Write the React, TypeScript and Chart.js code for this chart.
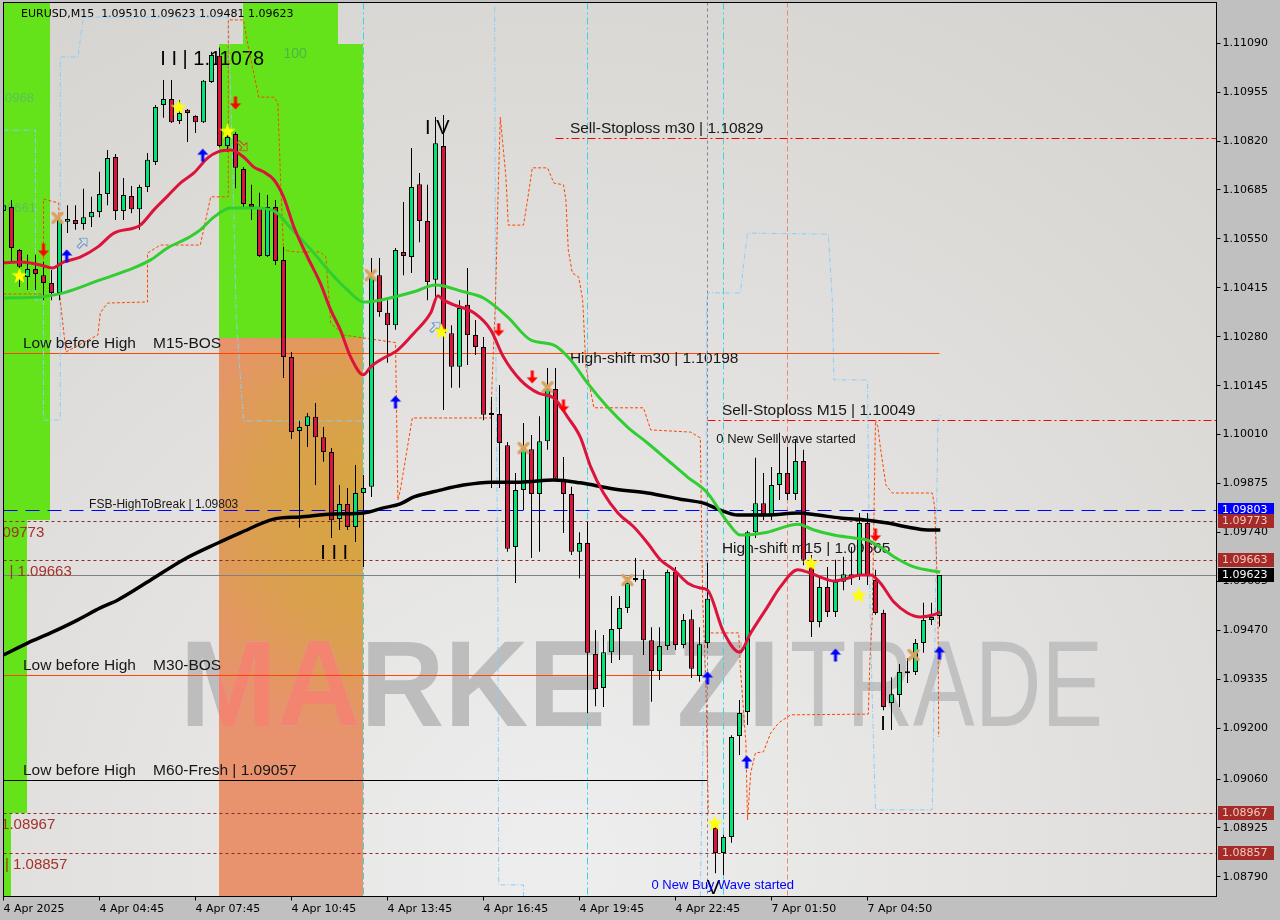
import React, { useEffect, useRef } from "react";
import { Chart, registerables } from "chart.js";

Chart.register(...registerables);

// ---------------- data ----------------
const SYMBOL = "EURUSD,M15";

const TIME_TICK_INDEX = [0, 12, 24, 36, 48, 60, 72, 84, 96, 108];
const TIME_TICK_LABELS = [
  "4 Apr 2025", "4 Apr 04:45", "4 Apr 07:45", "4 Apr 10:45", "4 Apr 13:45",
  "4 Apr 16:45", "4 Apr 19:45", "4 Apr 22:45", "7 Apr 01:50", "7 Apr 04:50",
];

const PRICE_TICKS = [
  1.1109, 1.10955, 1.1082, 1.10685, 1.1055, 1.10415, 1.1028, 1.10145, 1.1001,
  1.09875, 1.0974, 1.09605, 1.0947, 1.09335, 1.092, 1.0906, 1.08925, 1.0879,
];

const OPEN = [
  1.10627, 1.10638, 1.10519, 1.10445, 1.10467, 1.1045, 1.10428, 1.10401, 1.10597, 1.10602,
  1.10591, 1.1061, 1.10624, 1.10674, 1.10776, 1.10627, 1.10668, 1.10632, 1.10693, 1.10762,
  1.10919, 1.10936, 1.10875, 1.10906, 1.10889, 1.10872, 1.10983, 1.11055, 1.10806, 1.10839,
  1.10743, 1.10646, 1.10635, 1.10503, 1.10638, 1.10492, 1.10224, 1.1002, 1.10034, 1.10059,
  1.10003, 1.09962, 1.09777, 1.09819, 1.09755, 1.09849, 1.09866, 1.1045, 1.10346, 1.10312,
  1.10514, 1.105, 1.10701, 1.10599, 1.10437, 1.10806, 1.1029, 1.10197, 1.10368, 1.10285,
  1.10252, 1.10067, 1.10067, 1.09981, 1.097, 1.09857, 1.0997, 1.09846, 1.09992, 1.10136,
  1.09888, 1.09846, 1.09687, 1.09711, 1.09405, 1.09311, 1.0941, 1.09474, 1.09532, 1.09609,
  1.09612, 1.09443, 1.09358, 1.09427, 1.09631, 1.0943, 1.09501, 1.09344, 1.09435, 1.08925,
  1.08856, 1.089, 1.09179, 1.09245, 1.09741, 1.09821, 1.09788, 1.09871, 1.09904, 1.09846,
  1.09937, 1.09659, 1.09493, 1.0959, 1.09521, 1.09604, 1.09625, 1.09623, 1.09766, 1.09609,
  1.09518, 1.0927, 1.09292, 1.09355, 1.09355, 1.09435, 1.09499, 1.0951,
];
const HIGH = [
  1.1069, 1.10657, 1.10522, 1.10506, 1.10506, 1.10486, 1.10464, 1.10616, 1.10643, 1.10643,
  1.10688, 1.10666, 1.10735, 1.10795, 1.10784, 1.10718, 1.10696, 1.10699, 1.10787, 1.10919,
  1.10988, 1.10988, 1.10933, 1.10908, 1.10891, 1.10988, 1.11066, 1.11078, 1.1085, 1.10845,
  1.10748, 1.10699, 1.10677, 1.10671, 1.10657, 1.10528, 1.10238, 1.10048, 1.1007, 1.10097,
  1.10031, 1.09973, 1.09871, 1.09863, 1.09926, 1.09899, 1.10497, 1.10497, 1.10381, 1.10525,
  1.10652, 1.10801, 1.10732, 1.10699, 1.10886, 1.10892, 1.10312, 1.10381, 1.1047, 1.10326,
  1.10279, 1.10114, 1.10147, 1.0999, 1.09904, 1.10042, 1.10009, 1.10061, 1.10194, 1.10194,
  1.09948, 1.09866, 1.09741, 1.09769, 1.09471, 1.09457, 1.09565, 1.09565, 1.09617, 1.0967,
  1.09637, 1.09479, 1.09479, 1.09637, 1.09645, 1.09515, 1.09527, 1.09479, 1.09656, 1.08939,
  1.08906, 1.09181, 1.09278, 1.09745, 1.09946, 1.09904, 1.09921, 1.10015, 1.09976, 1.09995,
  1.09968, 1.09678, 1.09617, 1.09645, 1.09665, 1.09673, 1.097, 1.09794, 1.09794, 1.09637,
  1.09527, 1.09341, 1.09377, 1.09394, 1.09446, 1.09546, 1.09546, 1.09623,
];
const LOW = [
  1.10575, 1.10486, 1.10417, 1.10409, 1.10409, 1.10381, 1.10381, 1.10381, 1.10566, 1.10575,
  1.10575, 1.10583, 1.1061, 1.10643, 1.10602, 1.10602, 1.10621, 1.10575, 1.10679, 1.10754,
  1.10884, 1.1087, 1.10867, 1.10817, 1.10842, 1.1087, 1.1098, 1.10803, 1.1079, 1.1069,
  1.10638, 1.10602, 1.105, 1.105, 1.10478, 1.10166, 1.09998, 1.09753, 1.09976, 1.09871,
  1.09935, 1.09725, 1.09747, 1.09747, 1.09714, 1.09645, 1.09838, 1.10335, 1.10208, 1.10299,
  1.1045, 1.10456, 1.10541, 1.10381, 1.10381, 1.10078, 1.10139, 1.10139, 1.10202, 1.1023,
  1.1005, 1.09863, 1.09863, 1.09687, 1.09601, 1.09802, 1.0967, 1.09687, 1.09968, 1.09885,
  1.09739, 1.09678, 1.09614, 1.09242, 1.09261, 1.09259, 1.0938, 1.09388, 1.09518, 1.09604,
  1.09402, 1.09273, 1.09333, 1.09416, 1.09416, 1.09421, 1.09339, 1.09328, 1.09421, 1.088,
  1.08795, 1.08884, 1.09126, 1.09209, 1.09725, 1.09774, 1.09774, 1.0983, 1.0983, 1.0983,
  1.0965, 1.09452, 1.09479, 1.09507, 1.09507, 1.09581, 1.09595, 1.09609, 1.09595, 1.09513,
  1.0925, 1.09195, 1.09259, 1.09325, 1.09347, 1.09408, 1.09485, 1.09481,
];
const CLOSE = [
  1.10643, 1.10525, 1.10473, 1.10467, 1.10453, 1.10428, 1.10401, 1.10602, 1.10605, 1.10591,
  1.1061, 1.10624, 1.10674, 1.10773, 1.10627, 1.10671, 1.10632, 1.10693, 1.10768, 1.10914,
  1.10936, 1.10872, 1.10897, 1.10897, 1.10872, 1.10986, 1.11057, 1.10806, 1.10831, 1.10746,
  1.10646, 1.10638, 1.10503, 1.10638, 1.10489, 1.10224, 1.10017, 1.10031, 1.10061, 1.10003,
  1.09962, 1.09774, 1.09819, 1.09755, 1.09849, 1.09863, 1.10445, 1.10348, 1.10312, 1.10519,
  1.10503, 1.10693, 1.10599, 1.10431, 1.10814, 1.1029, 1.10197, 1.10359, 1.10285, 1.10252,
  1.10065, 1.10064, 1.09987, 1.09695, 1.09857, 1.09973, 1.09846, 1.09992, 1.10136, 1.09888,
  1.09846, 1.09687, 1.09711, 1.09408, 1.09308, 1.0941, 1.09474, 1.09532, 1.09601, 1.09612,
  1.09443, 1.09358, 1.09427, 1.09631, 1.0943, 1.09499, 1.09364, 1.09432, 1.09557, 1.08856,
  1.089, 1.09176, 1.09242, 1.09741, 1.09821, 1.09791, 1.09871, 1.09904, 1.09846, 1.09937,
  1.09665, 1.09493, 1.0959, 1.09521, 1.09604, 1.09625, 1.09614, 1.09766, 1.09623, 1.09518,
  1.09259, 1.09294, 1.09355, 1.09352, 1.09435, 1.09499, 1.09507, 1.09623,
];

// moving averages: [bar index, price]
const MA_RED: [number, number][] = [
  [0, 1.10484], [2.1, 1.10486], [4.6, 1.10478], [6.1, 1.1047], [7.5, 1.10486], [9.6, 1.105],
  [11.8, 1.10528], [13.8, 1.10566], [16.3, 1.1058], [17.1, 1.10588], [18.8, 1.1063], [20.5, 1.10668],
  [22.1, 1.10704], [23.8, 1.10732], [25.5, 1.10773], [26.8, 1.1079], [28.4, 1.10795], [30, 1.10776],
  [31.3, 1.10748], [32.5, 1.10735], [33.8, 1.10713], [35, 1.10666], [36.3, 1.10583], [38, 1.105],
  [39.6, 1.10428], [40.9, 1.10354], [42.1, 1.10299], [43.4, 1.10224], [45, 1.10175], [45.9, 1.10197],
  [47.1, 1.10216], [49.3, 1.10244], [51.3, 1.1029], [53.4, 1.10346], [54.3, 1.10393], [55, 1.10381],
  [56.3, 1.10368], [58.8, 1.10346], [60.9, 1.10299], [62.5, 1.10224], [64.6, 1.10161], [66.8, 1.10125],
  [68.8, 1.10111], [70.5, 1.10059], [72.1, 1.10003], [73.4, 1.09921], [75, 1.09849], [76.8, 1.09794],
  [78.8, 1.09755], [80.5, 1.09711], [82.1, 1.09665], [83.8, 1.09637], [85.5, 1.09601], [87.1, 1.09587],
  [88, 1.09581], [90, 1.09466], [92, 1.0941], [93.4, 1.09463], [95.5, 1.09535], [97.1, 1.0959],
  [99.3, 1.09637], [100.5, 1.09631], [102.1, 1.09617], [103.8, 1.09606], [105.5, 1.09614], [107.1, 1.09623],
  [108.4, 1.09623], [109.6, 1.09601], [111.3, 1.09548], [113, 1.09518], [114.6, 1.09507], [116.3, 1.09513],
  [117.1, 1.09521],
];
const MA_GREEN: [number, number][] = [
  [0, 1.10387], [4.6, 1.1039], [7.5, 1.10401], [12.1, 1.10437], [16.3, 1.1047], [18.4, 1.10492],
  [20.5, 1.10525], [23, 1.10552], [24.6, 1.10575], [26.3, 1.1061], [28.4, 1.10635], [31.3, 1.10635],
  [33.8, 1.10627], [35.9, 1.1058], [38.8, 1.10511], [40.9, 1.10456], [43, 1.10409], [45, 1.10376],
  [47.1, 1.10381], [51.3, 1.10404], [54, 1.10423], [57.5, 1.10404], [60, 1.10387], [63, 1.10335],
  [65.9, 1.10271], [68.8, 1.10257], [70.9, 1.10216], [73, 1.10152], [75.5, 1.10086], [78, 1.10031],
  [80.5, 1.09987], [83, 1.0994], [85.5, 1.09893], [88, 1.09849], [90.5, 1.09769], [92.1, 1.09733],
  [95.5, 1.09741], [99.3, 1.09763], [101.3, 1.09747], [103.8, 1.09733], [106.3, 1.09725], [108, 1.09719],
  [109.6, 1.097], [111.3, 1.09673], [113.8, 1.09645], [117.1, 1.09631],
];
const MA_BLACK: [number, number][] = [
  [0, 1.09402], [3, 1.09435], [5.9, 1.09463], [9.3, 1.09499], [12.1, 1.09532], [14.3, 1.09554],
  [18.4, 1.09609], [22.5, 1.09665], [26.8, 1.09711], [29.6, 1.09739], [33.8, 1.09777], [37.1, 1.09783],
  [41.3, 1.09791], [45, 1.09794], [47.5, 1.09808], [49.6, 1.09819], [51.3, 1.09838], [54.6, 1.09857],
  [57.5, 1.09871], [60.9, 1.09879], [64.6, 1.09879], [68.8, 1.09885], [72.1, 1.09877], [76.3, 1.0986],
  [80.5, 1.09849], [84.6, 1.09832], [87.5, 1.09821], [89.6, 1.09802], [91.8, 1.09788], [95.5, 1.09788],
  [99.3, 1.09794], [101.8, 1.09788], [104.6, 1.0978], [108, 1.09774], [110.5, 1.09766], [113, 1.09755],
  [115.5, 1.09747], [117.1, 1.09747],
];

// stepped channel lines: [bar index, price | null]
const STEP_ORANGE: [number, number | null][] = [
  [0, 1.10398], [5, 1.10398], [5, 1.1066], [6.9, 1.10649], [7.1, 1.10381], [7.8, 1.10238], [11.8, 1.10285],
  [12.1, 1.10346], [13, 1.10373], [18, 1.10376], [18, 1.10511], [19.6, 1.10533], [24.6, 1.10533],
  [25.9, 1.10666], [28.1, 1.10666], [28.1, 1.11154], [30, 1.11154], [30.5, 1.1109], [31.9, 1.10941],
  [33.8, 1.10941], [34.3, 1.10925], [34.6, 1.10732], [35, 1.10519], [36.5, 1.10514], [39.6, 1.10514],
  [40.3, 1.105], [40.9, 1.10318], [42.5, 1.10285], [44.9, 1.10277], [49, 1.10264], [49.3, 1.0983],
  [49.6, 1.09857], [51.1, 1.10056], [60.9, 1.10056], [61.5, 1.10381], [61.8, 1.10657], [62.1, 1.10886],
  [62.8, 1.10721], [63.1, 1.10588], [65, 1.10588], [65.5, 1.10657], [66.1, 1.10746], [68, 1.10746],
  [68.8, 1.10704], [70, 1.10699], [70.3, 1.10657], [70.6, 1.10519], [71.1, 1.10456], [71.9, 1.10445],
  [72.4, 1.10381], [72.8, 1.10197], [73.8, 1.10084], [80, 1.10084], [80.9, 1.10023], [85.9, 1.10017],
  [87.1, 1.10001], [87.4, 1.09554], [87.8, 1.09325], [88.1, 1.08966], [88.2, null], [88.4, 1.09463],
  [91.9, 1.09463], [92.1, 1.09369], [92.8, 1.09159], [93, 1.08947], [93.4, 1.09077], [94, 1.09132],
  [95, 1.09135], [95.9, 1.09187], [96.9, 1.09215], [98.4, 1.09237], [108.1, 1.09239], [108.3, 1.09388],
  [108.6, 1.09507], [109, 1.1005], [109.3, 1.10031], [109.6, 1.09976], [110.3, 1.09871], [111.1, 1.09849],
  [116.1, 1.09849], [116.4, 1.0981], [116.8, 1.09554], [116.9, 1.09176],
];
const STEP_BLUE: [number, number | null][] = [
  [0, 1.1085], [4, 1.1085], [4, 1.10381], [5, 1.10381], [5, 1.1005], [7.1, 1.1005], [7.1, 1.11052],
  [9.3, 1.11052], [10, 1.11162], [28.1, 1.11162], [28.6, 1.10795], [29.1, 1.10326], [30, 1.10048],
  [45, 1.10048], [45.1, null],
  [61.4, 1.1119], [61.5, 1.10381], [61.8, 1.09554], [61.9, 1.08768], [65, 1.08768], [65, 1.08737], [65.1, null],
  [87.1, 1.08737], [87.5, 1.09242], [87.8, 1.09554], [87.9, 1.10381], [88.1, 1.10401], [92.1, 1.10401],
  [92.4, 1.10456], [93, 1.10566], [103.1, 1.10563], [103.6, 1.10381], [103.8, 1.10161], [108, 1.10161],
  [108.3, 1.09554], [108.6, 1.09278], [109, 1.08975], [116.1, 1.08975], [116.5, 1.09554], [116.8, 1.1005],
  [117.1, 1.10065],
];

// signal markers: [bar index, price]
const STARS: [number, number][] = [
  [2, 1.1045], [21.9, 1.10914], [28, 1.10848], [54.75, 1.10296], [88.9, 1.08939], [100.9, 1.09656], [106.9, 1.09568],
];
const CROSSES: [number, number][] = [
  [6.75, 1.10608], [45.9, 1.1045], [65, 1.09973], [68, 1.10141], [78, 1.09609], [113.75, 1.09402],
];
const ARROWS_DOWN: [number, number][] = [
  [5, 1.10519], [29, 1.10925], [61.9, 1.10299], [66.1, 1.10169], [70, 1.10089], [109, 1.09733],
];
const ARROWS_UP: [number, number][] = [
  [7.9, 1.10503], [24.9, 1.10781], [49, 1.101], [88, 1.09339], [92.9, 1.09107], [104, 1.09402], [117, 1.09408],
];
const HOLLOW_UP: [number, number][] = [[9.9, 1.10539], [54, 1.10307]];
const HOLLOW_DOWN: [number, number][] = [[29.9, 1.10806]];

// levels
const SELL_STOP_M30 = 1.10829;
const HIGH_SHIFT_M30 = 1.10198;
const HIGH_SHIFT_M30_LINE = 1.10235;
const SELL_STOP_M15 = 1.10049;
const FSB_HIGH = 1.09803;
const ZONE_HIGH = 1.09773;
const HIGH_SHIFT_M15 = 1.09665;
const HIGH_SHIFT_M15_LINE = 1.09663;
const LAST_PRICE = 1.09623;
const BOS_M30 = 1.09346;
const FRESH_M60 = 1.09057;
const ZONE_LOW = 1.08967;
const ZONE_LOW2 = 1.08857;
const SWING_HIGH = 1.11078;

// zones: [bar from, bar to, price top | null, price bottom | null]
const GREEN_ZONES: [number, number, number | null, number | null][] = [
  [-2, 5.9, null, 1.09774],
  [-2, 3, null, 1.08966],
  [-2, 1, null, null],
  [27, 45, 1.11088, 1.10277],
  [30, 41.9, null, 1.11088],
];
const ORANGE_ZONES: [number, number, number | null, number | null][] = [[27, 45, 1.10277, null]];

const VLINES_CYAN = [45, 73, 90];
const VLINES_GRAY = [88];
const VLINES_SALMON = [98];

const Y_MIN = 1.087359;
const Y_MAX = 1.112021;
const X_MAX = 151.625;

// ---------------- helpers ----------------
const f5 = (v: number) => v.toFixed(5);

function starImg(color: string) {
  const s = 17;
  const c = document.createElement("canvas");
  c.width = s; c.height = s;
  const g = c.getContext("2d")!;
  g.fillStyle = color;
  g.beginPath();
  for (let k = 0; k < 10; k++) {
    const r = k % 2 === 0 ? s / 2 : s * 0.2;
    const ang = -Math.PI / 2 + (k * Math.PI) / 5;
    const px = s / 2 + r * Math.cos(ang);
    const py = s / 2 + 0.8 + r * Math.sin(ang);
    if (k === 0) g.moveTo(px, py); else g.lineTo(px, py);
  }
  g.closePath();
  g.fill();
  return c;
}
function arrowImg(color: string, filled: boolean) {
  const c = document.createElement("canvas");
  c.width = 12; c.height = 14;
  const g = c.getContext("2d")!;
  g.beginPath();
  g.moveTo(6, 0.5); g.lineTo(11.5, 6.5); g.lineTo(7.5, 6.5); g.lineTo(7.5, 13.5);
  g.lineTo(4.5, 13.5); g.lineTo(4.5, 6.5); g.lineTo(0.5, 6.5); g.closePath();
  if (filled) { g.fillStyle = color; g.fill(); } else { g.strokeStyle = color; g.lineWidth = 1; g.stroke(); }
  return c;
}
function crossImg(color: string) {
  const c = document.createElement("canvas");
  c.width = 14; c.height = 14;
  const g = c.getContext("2d")!;
  g.strokeStyle = color; g.lineWidth = 3.2; g.lineCap = "round";
  g.beginPath(); g.moveTo(2.5, 2.5); g.lineTo(11.5, 11.5); g.moveTo(11.5, 2.5); g.lineTo(2.5, 11.5); g.stroke();
  return c;
}

function drawWatermark(ctx: CanvasRenderingContext2D, c1: string, c2: string) {
  ctx.save();
  ctx.font = 'bold 123px "Liberation Sans"';
  const w1 = ctx.measureText("MARKETZI").width;
  ctx.translate(180, 726);
  ctx.scale(600 / w1, 1);
  ctx.fillStyle = c1;
  ctx.fillText("MARKETZI", 0, 0);
  ctx.restore();
  ctx.save();
  ctx.font = '123px "Liberation Sans"';
  const w2 = ctx.measureText("TRADE").width;
  ctx.translate(790, 726);
  ctx.scale(313 / w2, 1);
  ctx.fillStyle = c2;
  ctx.fillText("TRADE", 0, 0);
  ctx.restore();
}

const mt4Plugin = {
  id: "mt4",
  beforeDraw(chart: any) {
    const { ctx, chartArea: a } = chart;
    const xs = chart.scales.x, ys = chart.scales.y;
    const X = (i: number) => xs.getPixelForValue(i);
    const Y = (p: number | null, fb: number) => (p == null ? fb : ys.getPixelForValue(p));
    ctx.save();
    ctx.fillStyle = "#C0C0C0";
    ctx.fillRect(0, 0, chart.width, chart.height);
    const bg = ctx.createRadialGradient(560, 860, 40, 560, 860, 1050);
    bg.addColorStop(0, "#EDEDED");
    bg.addColorStop(1, "#D5D3CF");
    ctx.fillStyle = bg;
    ctx.fillRect(a.left, a.top, a.right - a.left, a.bottom - a.top);
    ctx.beginPath();
    ctx.rect(a.left, a.top, a.right - a.left, a.bottom - a.top);
    ctx.clip();
    const zr = (z: any) => {
      const x0 = Math.floor(X(z[0])), x1 = Math.floor(X(z[1]));
      const y0 = Math.round(Y(z[2], a.top)), y1 = Math.round(Y(z[3], a.bottom));
      return [x0, y0, x1 - x0, y1 - y0];
    };
    ctx.fillStyle = "#64E31B";
    for (const z of GREEN_ZONES) { const r = zr(z); ctx.fillRect(r[0], r[1], r[2], r[3]); }
    for (const z of ORANGE_ZONES) {
      const r = zr(z);
      const cx = r[0] + r[2] + 25, cy = r[1] + 170;
      const og = ctx.createRadialGradient(cx, cy, 10, cx, cy, 240);
      og.addColorStop(0, "#D5A73C");
      og.addColorStop(0.55, "#DB9F50");
      og.addColorStop(1, "#E8926E");
      ctx.fillStyle = og;
      ctx.fillRect(r[0], r[1], r[2], r[3]);
    }
    drawWatermark(ctx, "#BDBDBD", "#C1C1C1");
    for (const z of ORANGE_ZONES) {
      const r = zr(z);
      ctx.save();
      ctx.beginPath(); ctx.rect(r[0], r[1], r[2], r[3]); ctx.clip();
      drawWatermark(ctx, "#F3846F", "#F3846F");
      ctx.restore();
    }
    ctx.restore();
  },
  beforeDatasetsDraw(chart: any) {
    const { ctx, chartArea: a } = chart;
    const xs = chart.scales.x, ys = chart.scales.y;
    const X = (i: number) => xs.getPixelForValue(i);
    const HY = (p: number) => Math.round(ys.getPixelForValue(p)) + 0.5;
    ctx.save();
    ctx.beginPath();
    ctx.rect(a.left, a.top, a.right - a.left, a.bottom - a.top);
    ctx.clip();
    const hl = (p: number, i0: number | null, i1: number | null, color: string, dash: number[]) => {
      const yy = HY(p);
      ctx.beginPath();
      ctx.setLineDash(dash);
      ctx.strokeStyle = color;
      ctx.lineWidth = 1;
      ctx.moveTo(i0 == null ? a.left : X(i0), yy);
      ctx.lineTo(i1 == null ? a.right : X(i1), yy);
      ctx.stroke();
    };
    const vl = (i: number, color: string, dash: number[]) => {
      const xx = Math.round(X(i) - 0.5) + 0.5;
      ctx.beginPath();
      ctx.setLineDash(dash);
      ctx.strokeStyle = color;
      ctx.lineWidth = 1;
      ctx.moveTo(xx, a.top);
      ctx.lineTo(xx, a.bottom);
      ctx.stroke();
    };
    VLINES_CYAN.forEach((i) => vl(i, "#35D6E6", [7, 3, 2, 3]));
    VLINES_GRAY.forEach((i) => vl(i, "#7A8697", [3, 3]));
    VLINES_SALMON.forEach((i) => vl(i, "#F08476", [5, 3]));

    hl(SELL_STOP_M30, 69, null, "#FF0000", [8, 3, 2, 3]);
    hl(HIGH_SHIFT_M30_LINE, null, 117, "#FF4500", []);
    hl(SELL_STOP_M15, 88, null, "#FF0000", [8, 3, 2, 3]);
    hl(FSB_HIGH, null, null, "#0000FF", [14, 8]);
    hl(ZONE_HIGH, null, null, "#8B2A2A", [3, 3]);
    hl(HIGH_SHIFT_M15_LINE, null, null, "#8B2A2A", [3, 3]);
    hl(LAST_PRICE, null, null, "#808080", []);
    hl(BOS_M30, null, 88, "#FF4500", []);
    hl(FRESH_M60, null, 88, "#000000", []);
    hl(ZONE_LOW, null, null, "#8B2A2A", [3, 3]);
    hl(ZONE_LOW2, null, null, "#8B2A2A", [3, 3]);
    ctx.setLineDash([]);

    const T = (s: string, x: number, y: number, font: string, color: string) => {
      ctx.font = font;
      ctx.fillStyle = color;
      ctx.textAlign = "left";
      ctx.textBaseline = "alphabetic";
      ctx.fillText(s, x, y);
    };
    const dark = "#171717";
    const brown = "#A3322A";
    const F15 = '15.5px "Liberation Sans"';
    const last = OPEN.length - 1;

    T(`${SYMBOL}  ${f5(OPEN[last])} ${f5(HIGH[last])} ${f5(LOW[last])} ${f5(CLOSE[last])}`,
      a.left + 17.5, a.top + 14.5, '11px "DejaVu Sans"', "#000");
    T("0968", a.left + 1.5, a.top + 99.5, '13px "Liberation Sans"', "#5CC05A");
    T("0661", a.left + 3.5, a.top + 209.5, '13px "Liberation Sans"', "#5CC05A");
    T("100", X(35), a.top + 55.5, '14px "Liberation Sans"', "#48B848");

    T(`Sell-Stoploss m30 | ${f5(SELL_STOP_M30)}`, X(70.8), HY(SELL_STOP_M30) - 6, F15, dark);
    T(`High-shift m30 | ${f5(HIGH_SHIFT_M30)}`, X(70.8), HY(HIGH_SHIFT_M30_LINE) + 9, F15, dark);
    T("Low before High    M15-BOS", a.left + 19.5, HY(HIGH_SHIFT_M30_LINE) - 6, F15, dark);
    T(`Sell-Stoploss M15 | ${f5(SELL_STOP_M15)}`, X(89.8), HY(SELL_STOP_M15) - 6, F15, dark);
    T("0 New Sell wave started", X(89.1), HY(SELL_STOP_M15) + 22, '13px "Liberation Sans"', dark);
    T(`High-shift m15 | ${f5(HIGH_SHIFT_M15)}`, X(89.8), HY(HIGH_SHIFT_M15_LINE) - 8, F15, dark);
    T(`FSB-HighToBreak | ${f5(FSB_HIGH)}`, X(10.7), HY(FSB_HIGH) - 3, '12px "Liberation Sans"', dark);
    T("Low before High    M30-BOS", a.left + 19.5, HY(BOS_M30) - 6, F15, dark);
    T(`Low before High    M60-Fresh | ${f5(FRESH_M60)}`, a.left + 19.5, HY(FRESH_M60) - 6, F15, dark);

    const FB = '15px "Liberation Sans"';
    T(`| ${f5(ZONE_HIGH)}`, a.left - 21.5, HY(ZONE_HIGH) + 15, FB, brown);
    T(`| ${f5(HIGH_SHIFT_M15_LINE)}`, a.left + 6, HY(HIGH_SHIFT_M15_LINE) + 15, FB, brown);
    T(`| ${f5(ZONE_LOW)}`, a.left - 10.5, HY(ZONE_LOW) + 15, FB, brown);
    T(`| ${f5(ZONE_LOW2)}`, a.left + 1.5, HY(ZONE_LOW2) + 15, FB, brown);

    const FW = '20px "Liberation Sans"';
    T(`I I | ${f5(SWING_HIGH)}`, X(19.6), HY(SWING_HIGH) + 17, FW, "#000");
    T("I V", X(52.7), HY(HIGH[54]) + 16, FW, "#000");
    T("I I I", X(39.6), HY(LOW[45]) - 9, FW, "#000");
    T("V", X(87.9), HY(LOW[89]) + 20, FW, "#000");
    T("I", X(109.6), HY(LOW[110]) + 19, FW, "#000");
    T("0 New Buy Wave started", X(81), HY(LOW[89]) + 15, '13px "Liberation Sans"', "#0000FF");
    ctx.restore();
  },
  afterDraw(chart: any) {
    const { ctx, chartArea: a } = chart;
    const ys = chart.scales.y;
    ctx.save();
    ctx.strokeStyle = "#000";
    ctx.lineWidth = 1;
    ctx.setLineDash([]);
    ctx.strokeRect(a.left, a.top, a.right - a.left, a.bottom - a.top);
    const box = (p: number, bgc: string, fg: string) => {
      const yy = Math.round(ys.getPixelForValue(p));
      ctx.fillStyle = bgc;
      ctx.fillRect(a.right + 1.5, yy - 7, 56, 14);
      ctx.fillStyle = fg;
      ctx.font = '11px "DejaVu Sans"';
      ctx.textAlign = "left";
      ctx.textBaseline = "middle";
      ctx.fillText(f5(p), a.right + 5.5, yy + 0.5);
    };
    box(FSB_HIGH, "#0000FF", "#FFFFFF");
    box(ZONE_HIGH, "#A52A2A", "#F2CDBD");
    box(HIGH_SHIFT_M15_LINE, "#A52A2A", "#F2CDBD");
    box(LAST_PRICE, "#000000", "#FFFFFF");
    box(ZONE_LOW, "#A52A2A", "#F2CDBD");
    box(ZONE_LOW2, "#A52A2A", "#F2CDBD");
    ctx.restore();
  },
};

export default function App() {
  const ref = useRef<HTMLCanvasElement | null>(null);
  useEffect(() => {
    const canvas = ref.current;
    if (!canvas) return;
    const bars = OPEN.map((_, i) => i);
    const wickData = bars.map((i) => ({ x: i, y: [LOW[i], HIGH[i]] }));
    const bodyData = bars.map((i) => ({ x: i, y: [OPEN[i], CLOSE[i]] }));
    const bodyColors = bars.map((i) => (CLOSE[i] >= OPEN[i] ? "#00E676" : "#DC143C"));
    const pts = (arr: [number, number | null][]) => arr.map(([x, y]) => ({ x, y }));
    const marker = (arr: [number, number][], img: HTMLCanvasElement, rot = 0) => ({
      type: "scatter",
      data: arr.map(([x, y]) => ({ x, y })),
      pointStyle: img,
      pointRadius: 6,
      pointRotation: rot,
      order: 0,
    });

    const chart = new Chart(canvas, {
      type: "bar",
      data: {
        datasets: [
          {
            type: "line", data: pts(STEP_ORANGE), borderColor: "#FF4500", borderWidth: 1,
            borderDash: [3, 2], pointRadius: 0, spanGaps: false, order: 6,
          } as any,
          {
            type: "line", data: pts(STEP_BLUE), borderColor: "#87CEFA", borderWidth: 1,
            borderDash: [5, 2, 1, 2], pointRadius: 0, spanGaps: false, order: 6,
          } as any,
          {
            type: "bar", data: wickData, backgroundColor: "#000000", borderWidth: 0,
            grouped: false, barPercentage: 1, categoryPercentage: 1, maxBarThickness: 1,
            inflateAmount: 0, order: 5,
          } as any,
          {
            type: "bar", data: bodyData, backgroundColor: bodyColors, borderColor: "#000000",
            borderWidth: 1, borderSkipped: false, grouped: false, barPercentage: 1,
            categoryPercentage: 1, maxBarThickness: 5, minBarLength: 2, inflateAmount: 0, order: 4,
          } as any,
          {
            type: "line", data: pts(MA_BLACK), borderColor: "#000000", borderWidth: 3.5,
            pointRadius: 0, cubicInterpolationMode: "monotone", order: 3,
          } as any,
          {
            type: "line", data: pts(MA_GREEN), borderColor: "#32CD32", borderWidth: 3,
            pointRadius: 0, cubicInterpolationMode: "monotone", order: 2,
          } as any,
          {
            type: "line", data: pts(MA_RED), borderColor: "#DC143C", borderWidth: 3,
            pointRadius: 0, cubicInterpolationMode: "monotone", order: 1,
          } as any,
          marker(CROSSES, crossImg("#D9A25E")) as any,
          marker(STARS, starImg("#FFFF00")) as any,
          marker(ARROWS_DOWN, arrowImg("#FF0000", true), 180) as any,
          marker(ARROWS_UP, arrowImg("#0000FF", true)) as any,
          marker(HOLLOW_UP, arrowImg("#5B8FD6", false), 45) as any,
          marker(HOLLOW_DOWN, arrowImg("#E03030", false), 135) as any,
        ],
      },
      options: {
        animation: false,
        responsive: false,
        maintainAspectRatio: false,
        devicePixelRatio: 1,
        events: [],
        layout: { autoPadding: false, padding: { left: 3.5, top: 2.5, right: 0, bottom: 0 } },
        plugins: { legend: { display: false }, tooltip: { enabled: false } },
        scales: {
          x: {
            type: "linear",
            position: "bottom",
            min: 0,
            max: X_MAX,
            offset: false,
            afterFit: (s: any) => { s.height = 23.5; s.paddingLeft = 0; s.paddingRight = 0; },
            afterBuildTicks: (s: any) => { s.ticks = TIME_TICK_INDEX.map((v) => ({ value: v })); },
            ticks: {
              autoSkip: false,
              maxRotation: 0,
              minRotation: 0,
              align: "start",
              padding: 2,
              color: "#000",
              font: { family: '"DejaVu Sans"', size: 11 },
              callback: (v: any) => {
                const k = TIME_TICK_INDEX.indexOf(Number(v));
                return k >= 0 ? TIME_TICK_LABELS[k] : "";
              },
            },
            grid: { offset: false, drawOnChartArea: false, drawTicks: true, tickLength: 4, color: "#000" },
            border: { display: true, color: "#000" },
          } as any,
          y: {
            type: "linear",
            position: "right",
            min: Y_MIN,
            max: Y_MAX,
            afterFit: (s: any) => { s.width = 63.5; s.paddingTop = 0; s.paddingBottom = 0; },
            afterBuildTicks: (s: any) => { s.ticks = PRICE_TICKS.map((v) => ({ value: v })); },
            ticks: {
              autoSkip: false,
              padding: 2,
              color: "#000",
              font: { family: '"DejaVu Sans"', size: 11 },
              callback: (v: any) => Number(v).toFixed(5),
            },
            grid: { drawOnChartArea: false, drawTicks: true, tickLength: 4, color: "#000" },
            border: { display: true, color: "#000" },
          } as any,
        },
      } as any,
      plugins: [mt4Plugin as any],
    } as any);
    return () => chart.destroy();
  }, []);

  return (
    <div style={{ position: "absolute", left: 0, top: 0, width: 1280, height: 920, overflow: "hidden" }}>
      <canvas ref={ref} width={1280} height={920} style={{ width: 1280, height: 920, display: "block" }} />
    </div>
  );
}
